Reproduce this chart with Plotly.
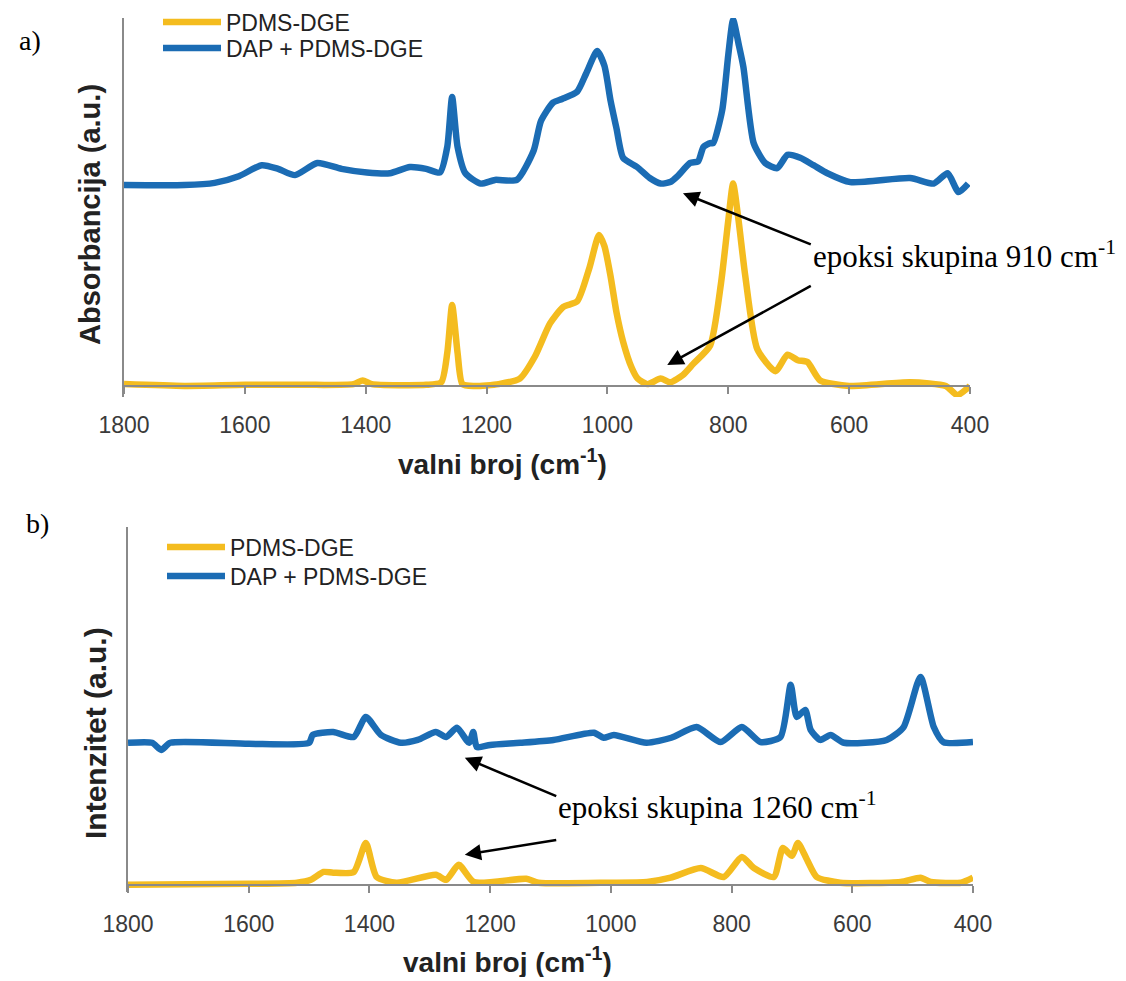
import plotly.graph_objects as go

# wavenumbers (cm-1) and relative intensities
# panel a) FTIR
a_pdms_x = [1800, 1700, 1600, 1500, 1420, 1405, 1390, 1300, 1275, 1265, 1257, 1248, 1240, 1220, 1180,
            1145, 1120, 1095, 1073, 1050, 1030, 1014, 1005, 995, 985, 974, 960, 950, 934, 912, 896,
            875, 858, 830, 812, 800, 792, 783, 772, 752, 722, 702, 685, 669, 648, 600, 499, 440,
            421, 400]
a_pdms_y = [0.005, 0.0, 0.003, 0.003, 0.005, 0.015, 0.005, 0.003, 0.01, 0.09, 0.22, 0.09, 0.005, 0.0,
            0.005, 0.02, 0.08, 0.17, 0.215, 0.23, 0.32, 0.41, 0.38, 0.30, 0.20, 0.12, 0.05, 0.02,
            0.005, 0.02, 0.01, 0.03, 0.06, 0.11, 0.28, 0.45, 0.55, 0.45, 0.30, 0.10, 0.04, 0.085,
            0.07, 0.065, 0.015, 0.0, 0.01, 0.0, -0.025, 0.0]

a_dap_x = [1800, 1700, 1650, 1610, 1572, 1545, 1517, 1480, 1440, 1398, 1360, 1327, 1300, 1277, 1265,
           1257, 1248, 1235, 1210, 1186, 1150, 1122, 1110, 1090, 1075, 1050, 1035, 1017, 1005, 995,
           985, 974, 951, 930, 912, 895, 884, 863, 850, 841, 830, 825, 810, 800, 792, 783, 775, 758,
           739, 719, 702, 681, 659, 636, 598, 499, 460, 437, 419, 403]
a_dap_y = [0.546, 0.546, 0.552, 0.57, 0.60, 0.59, 0.573, 0.606, 0.59, 0.58, 0.578, 0.595, 0.59, 0.58,
           0.65, 0.785, 0.65, 0.578, 0.55, 0.56, 0.56, 0.64, 0.72, 0.77, 0.78, 0.80, 0.85, 0.91, 0.87,
           0.777, 0.70, 0.62, 0.595, 0.565, 0.55, 0.555, 0.57, 0.606, 0.61, 0.65, 0.66, 0.66, 0.75,
           0.90, 0.995, 0.93, 0.867, 0.66, 0.606, 0.592, 0.628, 0.62, 0.60, 0.578, 0.554, 0.565,
           0.55, 0.578, 0.527, 0.55]

# panel b) Raman
b_pdms_x = [1800, 1600, 1520, 1497, 1476, 1460, 1426, 1406, 1388, 1355, 1290, 1273, 1252, 1227, 1140,
            1120, 1000, 940, 901, 851, 813, 783, 763, 730, 715, 700, 690, 675, 659, 620, 520, 487,
            470, 420, 400]
b_pdms_y = [0.0, 0.003, 0.006, 0.014, 0.036, 0.034, 0.036, 0.117, 0.022, 0.006, 0.028, 0.014, 0.056,
            0.008, 0.017, 0.006, 0.006, 0.008, 0.020, 0.047, 0.022, 0.078, 0.047, 0.022, 0.103, 0.081,
            0.117, 0.070, 0.022, 0.006, 0.008, 0.020, 0.008, 0.006, 0.020]

b_dap_x = [1800, 1760, 1745, 1730, 1600, 1500, 1494, 1460, 1426, 1406, 1381, 1348, 1320, 1290, 1273,
           1255, 1235, 1228, 1222, 1200, 1150, 1095, 1028, 1012, 995, 941, 900, 858, 818, 783, 752,
           719, 702, 692, 678, 669, 653, 636, 614, 543, 515, 487, 465, 449, 400]
b_dap_y = [0.397, 0.397, 0.377, 0.397, 0.394, 0.397, 0.419, 0.427, 0.413, 0.469, 0.419, 0.397, 0.405,
           0.427, 0.413, 0.439, 0.397, 0.427, 0.385, 0.391, 0.397, 0.405, 0.425, 0.411, 0.419, 0.397,
           0.411, 0.441, 0.399, 0.441, 0.399, 0.413, 0.559, 0.469, 0.489, 0.433, 0.405, 0.419, 0.397,
           0.405, 0.441, 0.581, 0.441, 0.399, 0.399]

names = ["PDMS-DGE", "DAP + PDMS-DGE"]
tick_vals = [1800, 1600, 1400, 1200, 1000, 800, 600, 400]

YELLOW = "#F4BC1F"
BLUE = "#1B6CB4"
AXIS = "#8a8a8a"
OFF = 8  # default page margin of the html body
W, H = 1126 - OFF, 981 - OFF - 4  # fill the window without scrollbars


def px_x(p):
    return (p - OFF) / W


def px_y(p):
    return 1 - (p - OFF) / H


fig = go.Figure()

# one legend per entry so that the row spacing can follow the picture
for xs, ys, name, color, xa, ya, leg in [
    (a_pdms_x, a_pdms_y, names[0], YELLOW, "x", "y", "legend"),
    (a_dap_x, a_dap_y, names[1], BLUE, "x", "y", "legend2"),
    (b_pdms_x, b_pdms_y, names[0], YELLOW, "x2", "y2", "legend3"),
    (b_dap_x, b_dap_y, names[1], BLUE, "x2", "y2", "legend4"),
]:
    fig.add_trace(
        go.Scatter(
            x=xs, y=ys, name=name, mode="lines", xaxis=xa, yaxis=ya, legend=leg,
            line=dict(color=color, width=6.5, shape="spline", smoothing=0.6),
        )
    )

tick_font = dict(family="Arial", size=23, color="#3a3a3a")
xcommon = dict(
    range=[1800, 400], tickvals=tick_vals, showline=True, linecolor=AXIS, linewidth=1.5,
    ticks="outside", ticklen=7, tickcolor=AXIS, tickwidth=1.5, showgrid=False,
    zeroline=False, tickfont=tick_font, ticklabelstandoff=12, anchor="free", automargin=False,
)
ycommon = dict(showline=True, linecolor=AXIS, linewidth=1.5, showticklabels=False, ticks="",
               showgrid=False, zeroline=False, automargin=False)

legend_font = dict(family="Arial", size=23, color="#222")


def legend_at(x, y):
    return dict(x=px_x(x), y=px_y(y), xanchor="left", yanchor="middle", bgcolor="rgba(0,0,0,0)",
                font=legend_font, itemwidth=58, borderwidth=0)


fig.update_layout(
    width=W, height=H, margin=dict(l=0, r=0, t=0, b=0, autoexpand=False),
    paper_bgcolor="white", plot_bgcolor="rgba(0,0,0,0)",
    xaxis=dict(domain=[px_x(124), px_x(970)], position=px_y(386), **xcommon),
    yaxis=dict(domain=[px_y(397), px_y(18)], range=[-0.03, 1.0], anchor="x", **ycommon),
    xaxis2=dict(domain=[px_x(128), px_x(973)], position=px_y(885), **xcommon),
    yaxis2=dict(domain=[px_y(892), px_y(527)], range=[-0.02, 1.0], anchor="x2", **ycommon),
    legend=legend_at(158, 22),
    legend2=legend_at(158, 48),
    legend3=legend_at(162, 547),
    legend4=legend_at(162, 576),
    showlegend=True,
)

title_font = dict(family="Arial", size=28, color="#222")
serif = dict(family="Liberation Serif, Times New Roman", size=31, color="black")

ann = [
    dict(text="<b>Absorbancija (a.u.)</b>", x=px_x(90), y=px_y(215), textangle=-90,
         font=dict(title_font, size=29)),
    dict(text="<b>valni broj (cm<sup>-1</sup>)</b>", x=px_x(502), y=px_y(462), font=title_font),
    dict(text="<b>Intenzitet (a.u.)</b>", x=px_x(95), y=px_y(733), textangle=-90,
         font=dict(title_font, size=30)),
    dict(text="<b>valni broj (cm<sup>-1</sup>)</b>", x=px_x(507), y=px_y(960), font=title_font),
    dict(text="a)", x=px_x(30), y=px_y(40), font=dict(serif, size=28)),
    dict(text="b)", x=px_x(37), y=px_y(523), font=dict(serif, size=28)),
    dict(text="epoksi skupina 910 cm<sup>-1</sup>", x=px_x(811), y=px_y(255), xanchor="left", font=serif),
    dict(text="epoksi skupina 1260 cm<sup>-1</sup>", x=px_x(556), y=px_y(805), xanchor="left", font=serif),
]
for a in ann:
    a.setdefault("xanchor", "center")
    a.update(xref="paper", yref="paper", yanchor="middle", showarrow=False)
    fig.add_annotation(**a)

# arrows: (tail x, tail y, head x, head y) in data units of each panel
arrows = [
    ("x", "y", 661, 0.383, 875, 0.524),
    ("x", "y", 661, 0.274, 901, 0.057),
    ("x2", "y2", 1088, 0.246, 1242, 0.355),
    ("x2", "y2", 1088, 0.126, 1242, 0.084),
]
for xr, yr, tx, ty, hx, hy in arrows:
    fig.add_annotation(
        x=hx, y=hy, ax=tx, ay=ty, xref=xr, yref=yr, axref=xr, ayref=yr, text="",
        showarrow=True, arrowhead=2, arrowsize=1.3, arrowwidth=2.5, arrowcolor="black",
    )

fig.write_html("out.html")
